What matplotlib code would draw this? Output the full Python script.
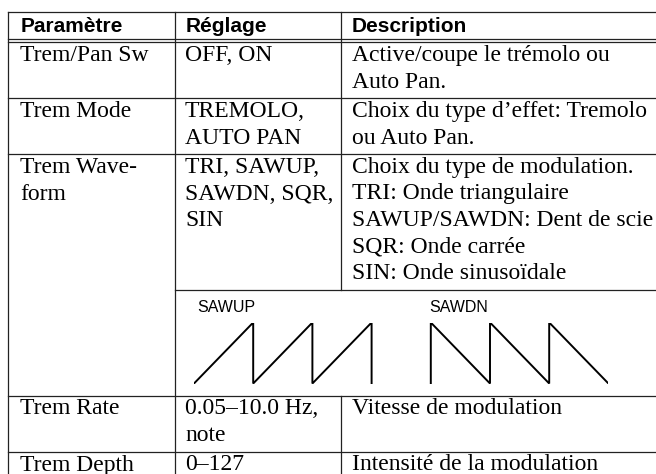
import matplotlib
matplotlib.use("Agg")
import matplotlib.pyplot as plt

# table content
headers = ["Paramètre", "Réglage", "Description"]
params = ["Trem/Pan Sw", "Trem Mode", "Trem Wave-\nform", "Trem Rate", "Trem Depth"]
settings = ["OFF, ON", "TREMOLO,\nAUTO PAN", "TRI, SAWUP,\nSAWDN, SQR,\nSIN",
            "0.05–10.0 Hz,\nnote", "0–127"]
descriptions = ["Active/coupe le trémolo ou\nAuto Pan.",
                "Choix du type d’effet: Tremolo\nou Auto Pan.",
                "Choix du type de modulation.\nTRI: Onde triangulaire\nSAWUP/SAWDN: Dent de scie\nSQR: Onde carrée\nSIN: Onde sinusoïdale",
                "Vitesse de modulation",
                "Intensité de la modulation"]
wave_row = 2  # row that carries the waveform picture

# waveform shapes (one unit = one tooth)
wave_labels = ["SAWUP", "SAWDN"]
sawup_x = [0, 1, 1, 2, 2, 3, 3]
sawup_y = [0, 1, 0, 1, 0, 1, 0]
sawdn_x = [4, 4, 5, 5, 6, 6, 7]
sawdn_y = [0, 1, 0, 1, 0, 1, 0]

W, H = 656, 474
fig = plt.figure(figsize=(W / 100, H / 100), dpi=100)
ax = fig.add_axes([0, 0, 1, 1])
ax.set_xlim(0, W)
ax.set_ylim(H, 0)
ax.axis("off")

lc = "#222222"
lw = 0.9
serif = "Liberation Serif"
sans = "Liberation Sans"
pitch = 26.5
x_left, x_c1, x_c2, x_right = 8, 175, 341, W
y_top, y_head = 12, 39
wave_h = 106

# header
ax.plot([x_left, x_right], [y_top, y_top], color=lc, lw=lw)
ax.plot([x_left, x_right], [y_head, y_head], color=lc, lw=lw)
ax.plot([x_left, x_right], [y_head + 3, y_head + 3], color=lc, lw=lw)
for txt, xx in zip(headers, [x_left + 12.5, x_c1 + 10.5, x_c2 + 11]):
    ax.text(xx, y_top + 19.5, txt, fontsize=15, fontweight="bold", family=sans,
            va="baseline", ha="left", color="black")

y = y_head + 3
c2_breaks = []
for i in range(len(params)):
    n = max(len(params[i].split("\n")), len(settings[i].split("\n")),
            len(descriptions[i].split("\n")))
    h = n * pitch + 3
    for col, xx in [(params[i], x_left + 12.5), (settings[i], x_c1 + 10),
                    (descriptions[i], x_c2 + 11)]:
        for k, line in enumerate(col.split("\n")):
            ax.text(xx, y + 19 + k * pitch, line, fontsize=17, family=serif,
                    va="baseline", ha="left", color="black")
    y_end = y + h
    c2_breaks.append((y, y_end))
    if i == wave_row:
        # waveform sub-row spanning settings + description
        ax.plot([x_c1, x_right], [y_end, y_end], color=lc, lw=lw)
        wy0, wy1 = y_end + 33, y_end + 94
        wx0, unit = 194, 59.2
        wax = fig.add_axes([wx0 / W, 1 - wy1 / H, 7 * unit / W, (wy1 - wy0) / H])
        wax.plot(sawup_x, sawup_y, color="black", lw=1.4, solid_joinstyle="miter")
        wax.plot(sawdn_x, sawdn_y, color="black", lw=1.4, solid_joinstyle="miter")
        wax.set_xlim(0, 7)
        wax.set_ylim(0, 1)
        wax.axis("off")
        for lbl, ux in zip(wave_labels, [0.05, 3.97]):
            ax.text(wx0 + ux * unit, y_end + 23, lbl, fontsize=11.5, family=sans,
                    va="baseline", ha="left", color="black")
        y_end = y_end + wave_h
    if y_end < H:
        ax.plot([x_left, x_right], [y_end, y_end], color=lc, lw=lw)
    y = y_end

# vertical rules
ax.plot([x_left, x_left], [y_top, H], color=lc, lw=lw)
ax.plot([x_c1, x_c1], [y_top, H], color=lc, lw=lw)
ax.plot([x_c2, x_c2], [y_top, c2_breaks[wave_row][1]], color=lc, lw=lw)
ax.plot([x_c2, x_c2], [c2_breaks[wave_row][1] + wave_h, H], color=lc, lw=lw)

fig.savefig("out.png", dpi=100, facecolor="white")
